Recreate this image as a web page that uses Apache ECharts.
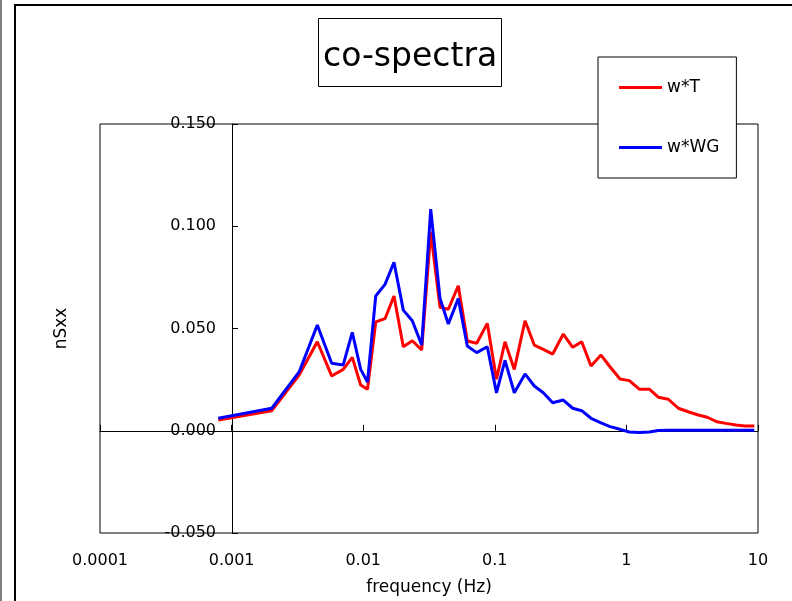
<!DOCTYPE html>
<html>
<head>
<meta charset="utf-8">
<script src="https://cdn.jsdelivr.net/npm/echarts@6/dist/echarts.min.js"></script>
<style>
html,body{margin:0;padding:0;background:#fff;}
#chart{width:792px;height:601px;}
</style>
</head>
<body>
<div id="chart"></div>
<script>
// ---- data ----
const freq = [0.000792, 0.00202, 0.00327, 0.00448, 0.00576, 0.00705, 0.00826, 0.00957, 0.01078,
  0.01245, 0.01465, 0.01714, 0.02017, 0.02361, 0.02783, 0.03259, 0.03833, 0.04433, 0.05279,
  0.0618, 0.07289, 0.0877, 0.103, 0.1195, 0.1407, 0.1697, 0.1996, 0.2336, 0.2754, 0.3315,
  0.3908, 0.4575, 0.5383, 0.6412, 0.7506, 0.894, 1.052, 1.253, 1.493, 1.747, 2.082, 2.48,
  2.954, 3.519, 4.12, 4.857, 5.713, 6.805, 7.965, 9.374];
const wT = [0.0053, 0.0098, 0.0274, 0.0435, 0.0268, 0.0300, 0.0359, 0.0224, 0.0203,
  0.0532, 0.0548, 0.0659, 0.0411, 0.0440, 0.0395, 0.0973, 0.0604, 0.0594, 0.0709,
  0.0439, 0.0428, 0.0525, 0.0252, 0.0435, 0.0300, 0.0538, 0.0419, 0.0398, 0.0375, 0.0473,
  0.0408, 0.0435, 0.0317, 0.0370, 0.0313, 0.0253, 0.0245, 0.0203, 0.0203, 0.0164, 0.0154, 0.0110,
  0.0093, 0.0077, 0.0066, 0.0044, 0.0036, 0.0028, 0.0023, 0.0023];
const wWG = [0.0061, 0.0110, 0.0289, 0.0517, 0.0330, 0.0322, 0.0481, 0.0300, 0.0238,
  0.0659, 0.0716, 0.0824, 0.0590, 0.0538, 0.0419, 0.1084, 0.0648, 0.0522, 0.0646,
  0.0414, 0.0382, 0.0411, 0.0185, 0.0344, 0.0186, 0.0278, 0.0219, 0.0186, 0.0137, 0.0150,
  0.0110, 0.0098, 0.0061, 0.0039, 0.0020, 0.0007, -0.0006, -0.0008, -0.0006, 0.0001, 0.0002, 0.0002,
  0.0002, 0.0002, 0.0002, 0.0002, 0.0002, 0.0002, 0.0002, 0.0002];
const xTickLabels = ['0.0001', '0.001', '0.01', '0.1', '1', '10'];
const yTickLabels = ['-0.050', '0.000', '0.050', '0.100', '0.150'];
const seriesNames = ['w*T', 'w*WG'];
const titleText = 'co-spectra';
const xName = 'frequency (Hz)';
const yName = 'nSxx';

const FONT = 'DejaVu Sans';
const chart = echarts.init(document.getElementById('chart'), null, {renderer: 'canvas'});
const pairs = (ys) => freq.map((f, i) => [f, ys[i]]);

chart.setOption({
  animation: false,
  backgroundColor: '#fff',
  textStyle: {fontFamily: FONT, color: '#000'},
  title: {
    text: titleText,
    left: 318, top: 18,
    padding: [23, 5, 13, 5],
    borderColor: '#000', borderWidth: 1, backgroundColor: '#fff',
    textStyle: {fontFamily: FONT, fontSize: 33, fontWeight: 'normal', color: '#000'}
  },
  legend: {
    orient: 'vertical',
    left: 598, top: 57,
    padding: [22, 17, 22, 21],
    itemGap: 43,
    itemWidth: 43, itemHeight: 3,
    icon: 'rect',
    backgroundColor: '#fff', borderColor: '#000', borderWidth: 1,
    textStyle: {fontFamily: FONT, fontSize: 17, color: '#000'},
    data: seriesNames
  },
  grid: {
    left: 100, top: 124, width: 658, height: 409,
    show: true, borderColor: '#000', borderWidth: 1,
    containLabel: false
  },
  xAxis: [{
    type: 'log', logBase: 10, min: 0.0001, max: 10,
    position: 'bottom',
    axisLine: {show: false, onZero: false},
    axisTick: {show: false},
    splitLine: {show: false},
    axisLabel: {
      margin: 20, fontSize: 16, fontFamily: FONT, color: '#000',
      formatter: (v) => xTickLabels[Math.round(Math.log10(v)) + 4]
    },
    name: xName, nameLocation: 'middle', nameGap: 46,
    nameTextStyle: {fontFamily: FONT, fontSize: 17, color: '#000'}
  }, {
    type: 'log', logBase: 10, min: 0.0001, max: 10,
    position: 'bottom',
    axisLine: {show: true, onZero: true, lineStyle: {color: '#000', width: 1}},
    axisTick: {show: true, inside: true, length: 6, lineStyle: {color: '#000'}},
    axisLabel: {show: false},
    splitLine: {show: false}
  }],
  yAxis: {
    type: 'value', min: -0.05, max: 0.15, interval: 0.05,
    position: 'left', offset: -132,
    axisLine: {show: true, lineStyle: {color: '#000', width: 1}},
    axisTick: {show: true, inside: true, length: 6, lineStyle: {color: '#000'}},
    splitLine: {show: false},
    axisLabel: {
      margin: 16, fontSize: 16, fontFamily: FONT, color: '#000',
      formatter: (v) => yTickLabels[Math.round((v + 0.05) / 0.05)]
    },
    name: yName, nameLocation: 'middle', nameGap: 162,
    nameTextStyle: {fontFamily: FONT, fontSize: 17, color: '#000'}
  },
  series: [{
    name: seriesNames[0], type: 'line', xAxisIndex: 0,
    data: pairs(wT), showSymbol: false, symbol: 'none',
    color: '#ff0000', lineStyle: {color: '#ff0000', width: 3}
  }, {
    name: seriesNames[1], type: 'line', xAxisIndex: 0,
    data: pairs(wWG), showSymbol: false, symbol: 'none',
    color: '#0000ff', lineStyle: {color: '#0000ff', width: 3}
  }],
  graphic: [{
    type: 'rect', silent: true, z: -1,
    shape: {x: 15, y: 5, width: 800, height: 620},
    style: {fill: 'none', stroke: '#000', lineWidth: 2}
  }, {
    type: 'line', silent: true,
    shape: {x1: 1, y1: 0, x2: 1, y2: 601},
    style: {stroke: '#555', lineWidth: 1.5}
  }]
});
</script>
</body>
</html>
